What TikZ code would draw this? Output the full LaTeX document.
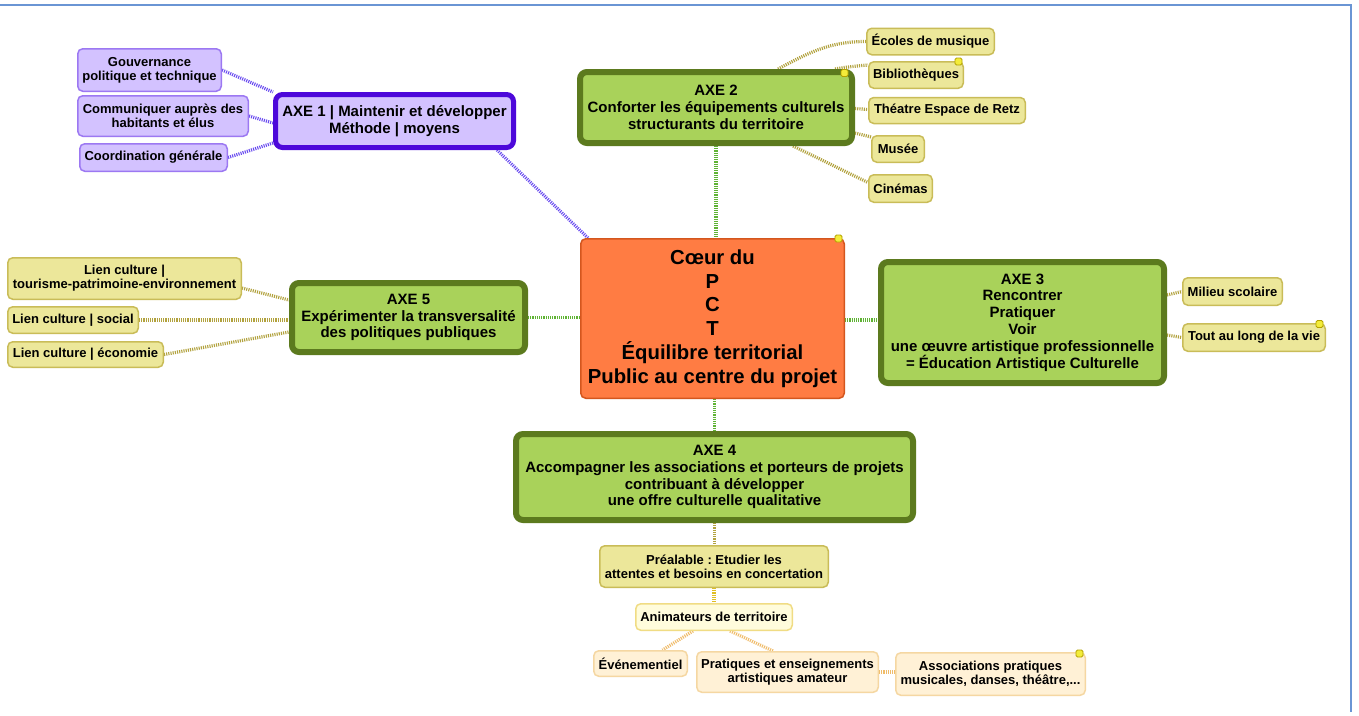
\documentclass[tikz,border=0pt]{standalone}
\usepackage{fontspec}
\setmainfont{Liberation Sans}
\frenchspacing
\usetikzlibrary{backgrounds}
\definecolor{leafY}{HTML}{ECE79A}
\definecolor{leafYd}{HTML}{C9BC58}
\definecolor{leafP}{HTML}{D3C2FF}
\definecolor{leafPd}{HTML}{9C78F2}
\definecolor{axeP}{HTML}{4D08DA}
\definecolor{axeG}{HTML}{A9D25A}
\definecolor{axeGd}{HTML}{5C7A1E}
\definecolor{coreO}{HTML}{FF7C43}
\definecolor{coreOd}{HTML}{D4561E}
\definecolor{animY}{HTML}{FFFCDC}
\definecolor{animYd}{HTML}{F0DC84}
\definecolor{peach}{HTML}{FFF1D6}
\definecolor{peachd}{HTML}{F5D7A2}
\definecolor{cP}{HTML}{6A4CF0}
\definecolor{cG}{HTML}{5FB334}
\definecolor{cO}{HTML}{B2A23E}
\definecolor{cY}{HTML}{E0BE22}
\definecolor{cR}{HTML}{F0BC6A}
\definecolor{noteY}{HTML}{F3EC3A}
\definecolor{noteYd}{HTML}{B3A200}
\definecolor{frameB}{HTML}{6A95D4}
\begin{document}
\begin{tikzpicture}[x=1pt,y=-1pt,
  base/.style={align=center,inner sep=0pt,text=black},
  leaf/.style={base,rounded corners=5pt,line width=1.5pt,font=\fontsize{13}{14}\selectfont\bfseries},
  leafy/.style={leaf,fill=leafY,draw=leafYd},
  leafp/.style={leaf,fill=leafP,draw=leafPd},
  leafa/.style={leaf,fill=animY,draw=animYd},
  leafr/.style={leaf,fill=peach,draw=peachd},
  axeg/.style={base,rounded corners=7pt,line width=6pt,fill=axeG,draw=axeGd,font=\fontsize{15}{16.8}\selectfont\bfseries},
  axep/.style={base,rounded corners=7pt,line width=5pt,fill=leafP,draw=axeP,font=\fontsize{15}{16.8}\selectfont\bfseries},
  core/.style={base,rounded corners=5pt,line width=1.5pt,fill=coreO,draw=coreOd,font=\fontsize{20.3}{23.8}\selectfont\bfseries},
  notebox/.style={minimum size=7pt,inner sep=0pt,rounded corners=1.5pt,fill=noteY,draw=noteYd,line width=0.8pt},
  link/.style={line width=3.2pt,dash pattern=on 1.1pt off 1.1pt},
  lp/.style={link,draw=cP},
  lg/.style={link,draw=cG},
  lo/.style={link,draw=cO},
  ly/.style={link,draw=cY},
  lr/.style={link,draw=cR}]
\useasboundingbox (0,0) rectangle (1359,715);
\begin{pgfonlayer}{background}
\fill[white] (0,0) rectangle (1359,715);
\end{pgfonlayer}
\draw[frameB,line width=2pt] (0,5) -- (1351,5) -- (1351,712);

% nodes
\node[core,minimum width=263.5pt,minimum height=159.5pt] (core) at (712.5,318.5)
  {Cœur du\\P\\C\\T\\Équilibre territorial\\Public au centre du projet};

\node[axep,minimum width=238pt,minimum height=53pt] (axe1) at (394.5,121)
  {AXE 1 | Maintenir et développer\\Méthode | moyens};
\node[leafp,minimum width=143.5pt,minimum height=42.5pt] (g1) at (149.5,70) {Gouvernance\\politique et technique};
\node[leafp,minimum width=170.5pt,minimum height=40.5pt] (g2) at (163,116) {Communiquer auprès des\\habitants et élus};
\node[leafp,minimum width=147.5pt,minimum height=27.5pt] (g3) at (153.5,157.5) {Coordination générale};

\node[axeg,minimum width=272pt,minimum height=71pt] (axe2) at (716,107.5)
  {AXE 2\\Conforter les équipements culturels\\structurants du territoire};
\node[leafy,minimum width=127.5pt,minimum height=26.5pt] (e1) at (930.5,41.5) {Écoles de musique};
\node[leafy,minimum width=94.5pt,minimum height=26.5pt] (e2) at (916,75) {Bibliothèques};
\node[leafy,minimum width=156.5pt,minimum height=26pt] (e3) at (947,110.5) {Théatre Espace de Retz};
\node[leafy,minimum width=52.5pt,minimum height=26.5pt] (e4) at (898,149) {Musée};
\node[leafy,minimum width=63.5pt,minimum height=27.5pt] (e5) at (900.5,188.5) {Cinémas};

\node[axeg,minimum width=233pt,minimum height=69pt] (axe5) at (408.5,317.5)
  {AXE 5\\Expérimenter la transversalité\\des politiques publiques};
\node[leafy,minimum width=233.5pt,minimum height=41.5pt] (l1) at (124.5,278.5) {Lien culture |\\tourisme-patrimoine-environnement};
\node[leafy,minimum width=130.5pt,minimum height=26.5pt] (l2) at (73,320) {Lien culture | social};
\node[leafy,minimum width=155.5pt,minimum height=25.5pt] (l3) at (85.5,354.5) {Lien culture | économie};

\node[axeg,minimum width=283pt,minimum height=121pt] (axe3) at (1022.5,322.5)
  {AXE 3\\Rencontrer\\Pratiquer\\Voir\\une œuvre artistique professionnelle\\= Éducation Artistique Culturelle};
\node[leafy,minimum width=99.5pt,minimum height=27.5pt] (m1) at (1232.5,291.5) {Milieu scolaire};
\node[leafy,minimum width=142.5pt,minimum height=27.5pt] (m2) at (1254,337.5) {Tout au long de la vie};

\node[axeg,minimum width=397pt,minimum height=86pt] (axe4) at (714.5,477)
  {AXE 4\\Accompagner les associations et porteurs de projets\\contribuant à développer\\une offre culturelle qualitative};
\node[leafy,minimum width=228.5pt,minimum height=41.5pt] (pre) at (714,566.5) {Préalable : Etudier les\\attentes et besoins en concertation};
\node[leafa,minimum width=156.5pt,minimum height=26.5pt] (ani) at (714,617) {Animateurs de territoire};
\node[leafr,minimum width=93.5pt,minimum height=25.5pt] (eve) at (640.5,663.5) {Événementiel};
\node[leafr,minimum width=181.5pt,minimum height=40.5pt] (pra) at (787.5,672) {Pratiques et enseignements\\artistiques amateur};
\node[leafr,minimum width=189.5pt,minimum height=42.5pt] (aso) at (990.5,674) {Associations pratiques\\musicales, danses, théâtre,...};

% notes
\node[notebox] (n1) at (838.5,238.5) {};
\node[notebox] (n2) at (844.5,73) {};
\node[notebox] (n3) at (958.5,61.5) {};
\node[notebox] (n4) at (1319.5,324) {};
\node[notebox] (n5) at (1079.5,653.5) {};

% connectors, under the boxes
\begin{pgfonlayer}{background}
\draw[lp] (g1.east) -- (axe1.north west);
\draw[lp] (g2.east) -- ([yshift=-2]axe1.west);
\draw[lp] (g3.east) -- ([yshift=7]axe1.south west);
\draw[lp] ([xshift=-19]axe1.south east) -- ([xshift=8]core.north west);

\draw[lo] ([xshift=-77]axe2.north east) to[out=28,in=180] (e1.west);
\draw[lo] ([xshift=-20]axe2.north east) to[out=10,in=185] ([yshift=10]e2.west);
\draw[lo] ([yshift=-1]axe2.east) -- ([yshift=1]e3.west);
\draw[lo] ([yshift=-25.5]axe2.east) -- ([yshift=12]e4.west);
\draw[lo] ([xshift=-62]axe2.south east) -- ([yshift=6]e5.west);
\draw[lg] (axe2.south) -- (axe2.south |- core.north);

\draw[lo] ([yshift=-9.5]l1.east) -- ([yshift=17.5]axe5.west);
\draw[lo] (l2.east) -- (l2.east -| axe5.west);
\draw[lo] (l3.east) -- ([yshift=-14.5]axe5.west);
\draw[lg] (axe5.east) -- (axe5.east -| core.west);

\draw[lg] ([yshift=-1.5]core.east) -- ([yshift=2.5]axe3.west);
\draw[lo] ([yshift=27.5]axe3.east) -- (m1.west);
\draw[lo] ([yshift=-12.5]axe3.east) -- (m2.west);

\draw[lg] (core.south -| axe4.north) -- (axe4.north);
\draw[lo] (axe4.south) -- (axe4.south |- pre.north);
\draw[ly] (pre.south) -- (ani.north);
\draw[lr] ([xshift=-21]ani.south) -- ([xshift=22]eve.north);
\draw[lr] ([xshift=16]ani.south) -- ([xshift=-14.5]pra.north);
\draw[lr] (pra.east) -- (pra.east -| aso.west);
\end{pgfonlayer}
\end{tikzpicture}
\end{document}
